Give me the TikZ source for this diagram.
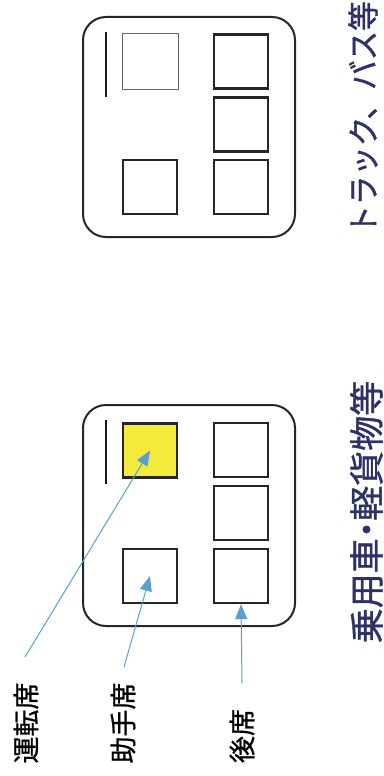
\documentclass[tikz,border=0pt]{standalone}
\usepackage{fontspec}
\newfontfamily\jp{Noto Sans CJK JP}[FakeBold=0.8]
\newfontfamily\jpt{Noto Sans CJK JP}[FakeBold=1.2]
\newfontfamily\jptp{Noto Sans CJK JP}[FakeBold=1.2,RawFeature=+palt]
\usetikzlibrary{arrows.meta}
\definecolor{navy}{HTML}{2E3166}
\definecolor{seatyellow}{HTML}{F4EA3C}
\definecolor{arrowblue}{HTML}{5A9FD4}
\tikzset{
  car/.style={draw=black!85, line width=2pt, rounded corners=23pt},
  seat/.style={draw=black!85, line width=2.4pt, minimum size=54pt, inner sep=0pt},
  thinseat/.style={draw=black!60, line width=1pt, minimum size=56pt, inner sep=0pt},
  wheel/.style={draw=black!90, line width=2pt},
  title/.style={text=navy, rotate=90, inner sep=0pt},
  label/.style={font=\jp\fontsize{27}{27}\selectfont, text=black, rotate=90, inner sep=0pt},
  pointer/.style={draw=arrowblue, line width=1pt, -{Triangle[length=15pt,width=12pt]}, arrowblue}
}
\begin{document}
\begin{tikzpicture}[x=1pt,y=-1pt]
\useasboundingbox (0,0) rectangle (383,776);
% top car
\draw[car] (83,17) rectangle (295,237);
\draw[wheel] (106,32) -- (106,97);
\node[thinseat] (tdrv) at (150,61.5) {};
\node[seat] (tpas) at (150,187) {};
\node[seat] (tr1) at (241,61.5) {};
\node[seat] (tr2) at (241,124.5) {};
\node[seat] (tr3) at (241,187) {};
\node[title, font=\jpt\fontsize{29.5}{29.5}\selectfont] (ttitle) at (363,118) {\scalebox{1}[1.08]{トラック、バス等}};
% bottom car
\draw[car] (83,405) rectangle (295,626);
\draw[wheel] (106,420) -- (106,484);
\node[seat, fill=seatyellow] (bdrv) at (150,450.5) {};
\node[seat] (bpas) at (150,576) {};
\node[seat] (br1) at (241,450) {};
\node[seat] (br2) at (241,513) {};
\node[seat] (br3) at (241,576) {};
\node[title, font=\jptp\fontsize{35}{35}\selectfont] (btitle) at (366.5,512) {\scalebox{1}[1.0]{乗用車・軽貨物等}};
% labels
\node[label] (lunten) at (26,723) {運転席};
\node[label] (ljoshu) at (123,723) {助手席};
\node[label] (lkoseki) at (242,736) {後席};
\coordinate (s1) at (25,657);
\coordinate (s2) at (124,667);
\coordinate (s3) at (242,683);
\draw[pointer] (s1) -- (bdrv.center);
\draw[pointer] (s2) -- (bpas.center);
\draw[pointer] (s3) -- (br3.south);
\end{tikzpicture}
\end{document}
